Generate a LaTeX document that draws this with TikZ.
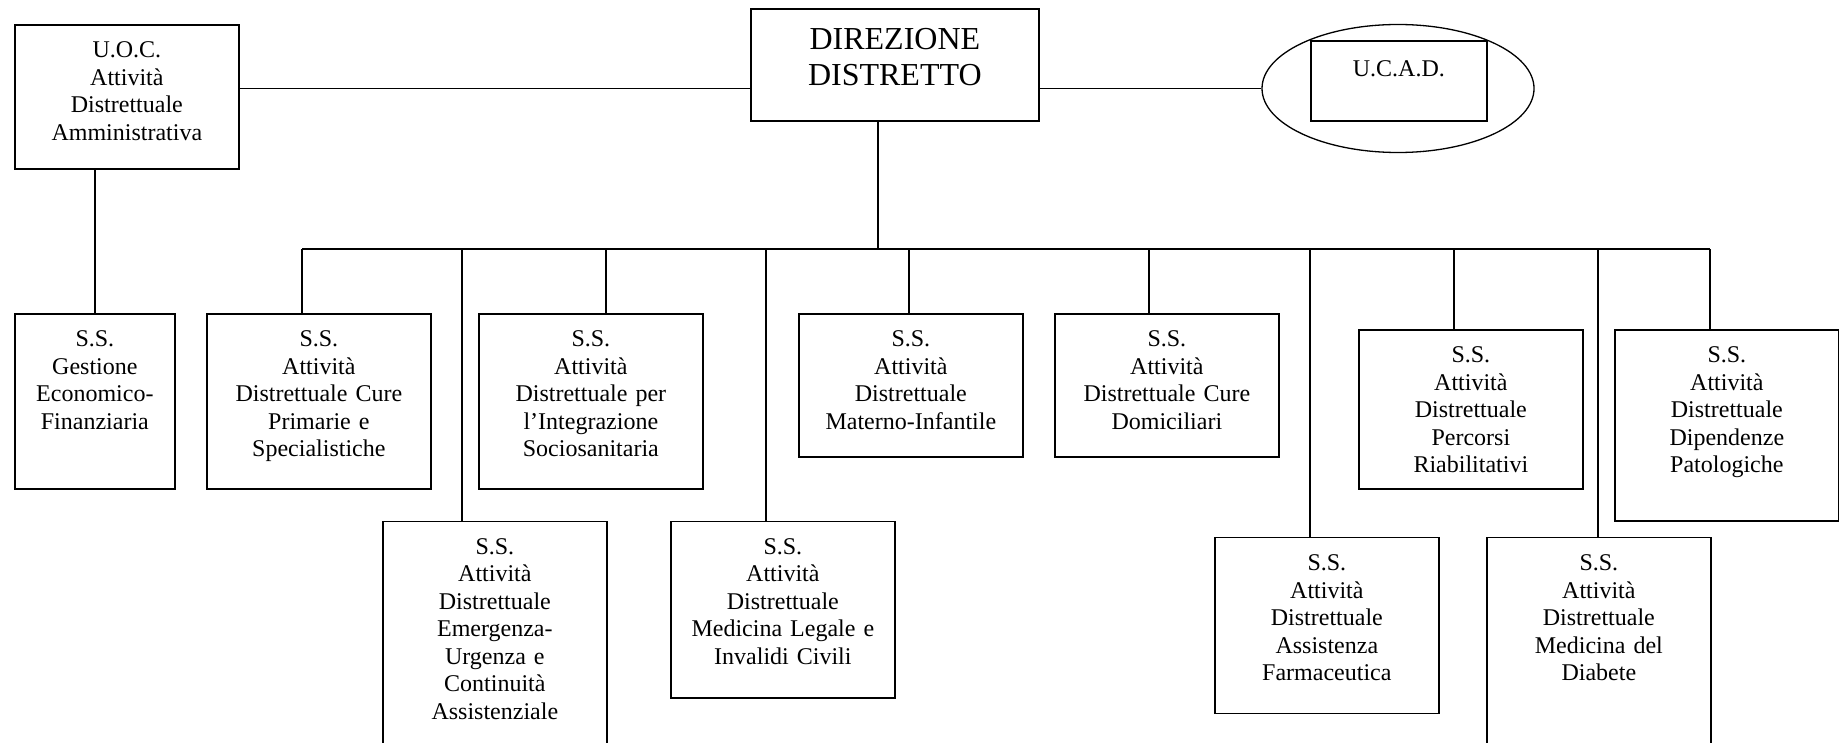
\documentclass[tikz,border=0pt]{standalone}
\usepackage{fontspec}
\setmainfont{Liberation Serif}
\usetikzlibrary{shapes.geometric}

\begin{document}
\begin{tikzpicture}[x=0.5pt, y=-0.5pt, line width=0.65pt]
                \tikzstyle{every node}=[font=\fontsize{12}{13.75}\selectfont]
                \tikzstyle{unit}=[draw, line width=0.85pt, anchor=north west, align=center, inner sep=0pt, text width=112pt, text height=16.5pt]

                \useasboundingbox (0,0) rectangle (1839,743);
                \clip (0,0) rectangle (1839,743);

                \node[unit, text depth=55.5pt]          (uoc)     at (14,24)      {U.O.C.\\Attività\\Distrettuale\\Amministrativa};
                \node[unit, text width=144pt, text height=20pt, text depth=36pt, font=\fontsize{16}{18}\selectfont]
                                                        (dir)     at (750,8.5)    {DIREZIONE\\DISTRETTO};
                \node[ellipse, draw, minimum width=136pt, minimum height=64pt, inner sep=0pt]
                                                        (ring)    at (1398,88.5)  {};
                \node[unit, text width=88pt, text height=17.5pt, text depth=22.5pt]
                                                        (ucad)    at (1310,40.5)  {U.C.A.D.};

                \node[unit, text width=80pt, text depth=71pt] (gest) at (14,313) {S.S.\\Gestione\\Economico-\\Finanziaria};
                \node[unit, text depth=71pt]            (cure)    at (206,313)    {S.S.\\Attività\\Distrettuale Cure\\Primarie e\\Specialistiche};
                \node[unit, text depth=71pt]            (integ)   at (478,313)    {S.S.\\Attività\\Distrettuale per\\l’Integrazione\\Sociosanitaria};
                \node[unit, text depth=103.5pt]         (emerg)   at (382,520.5)  {S.S.\\Attività\\Distrettuale\\Emergenza-\\Urgenza e\\Continuità\\Assistenziale};
                \node[unit, text depth=71.75pt]         (legale)  at (670,520.5)  {S.S.\\Attività\\Distrettuale\\Medicina Legale e\\Invalidi Civili};
                \node[unit, text depth=55pt]            (materno) at (798,313)    {S.S.\\Attività\\Distrettuale\\Materno-Infantile};
                \node[unit, text depth=55pt]            (domic)   at (1054,313)   {S.S.\\Attività\\Distrettuale Cure\\Domiciliari};
                \node[unit, text depth=71.5pt]          (farma)   at (1214,536.7) {S.S.\\Attività\\Distrettuale\\Assistenza\\Farmaceutica};
                \node[unit, text depth=63pt]            (riab)    at (1358,329)   {S.S.\\Attività\\Distrettuale\\Percorsi\\Riabilitativi};
                \node[unit, text depth=103.5pt]         (diab)    at (1486,536.7) {S.S.\\Attività\\Distrettuale\\Medicina del\\Diabete};
                \node[unit, text depth=79pt]            (dip)     at (1614,329)   {S.S.\\Attività\\Distrettuale\\Dipendenze\\Patologiche};

                \coordinate (mid) at (0,88.5);
                \coordinate (top) at (878,249);
                \coordinate (b1)  at (302,249);
                \coordinate (b2)  at (462,249);
                \coordinate (b3)  at (606,249);
                \coordinate (b4)  at (766,249);
                \coordinate (b5)  at (909,249);
                \coordinate (b6)  at (1149,249);
                \coordinate (b7)  at (1310,249);
                \coordinate (b8)  at (1454,249);
                \coordinate (b9)  at (1598,249);
                \coordinate (b10) at (1710,249);

                \draw   (uoc.east |- mid) -- (dir.west |- mid)
                        (dir.east |- mid) -- (ring.west)
                        (uoc.south -| gest.north) -- (gest.north)
                        (dir.south -| top) -- (top)
                        (b1) -- (b10);

                \draw   (b1)  -- (b1 |- cure.north)
                        (b2)  -- (b2 |- emerg.north)
                        (b3)  -- (b3 |- integ.north)
                        (b4)  -- (b4 |- legale.north)
                        (b5)  -- (b5 |- materno.north)
                        (b6)  -- (b6 |- domic.north)
                        (b7)  -- (b7 |- farma.north)
                        (b8)  -- (b8 |- riab.north)
                        (b9)  -- (b9 |- diab.north)
                        (b10) -- (b10 |- dip.north);
            \end{tikzpicture}
\end{document}
